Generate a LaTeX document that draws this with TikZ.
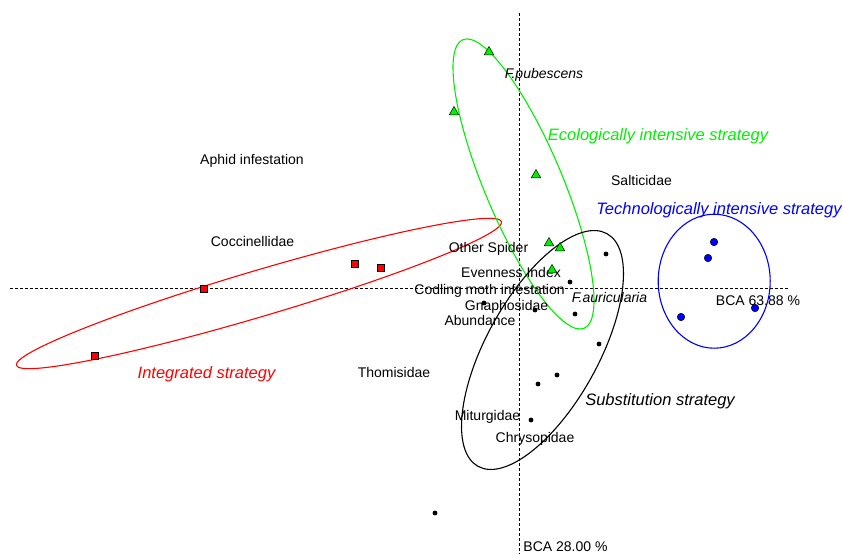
\documentclass[tikz,border=0pt]{standalone}
\usepackage{fontspec}
\setmainfont{Liberation Sans}
\usetikzlibrary{shapes.geometric}
\definecolor{rgreen}{RGB}{0,240,0}
\definecolor{rred}{RGB}{255,0,0}
\definecolor{rblue}{RGB}{0,0,255}
\begin{document}
\begin{tikzpicture}[x=1pt,y=-1pt,
  lab/.style={anchor=base, inner sep=0pt, font=\fontsize{14}{16}\selectfont},
  ital/.style={anchor=base, inner sep=0pt, font=\fontsize{14}{16}\selectfont\itshape},
  strat/.style={anchor=base, inner sep=0pt, font=\fontsize{16.5}{19}\selectfont\itshape},
  axisline/.style={line width=0.7pt, dash pattern=on 3pt off 2pt},
  sq/.style={rectangle, draw=black, fill=rred, minimum size=7pt, inner sep=0pt, line width=0.5pt},
  tri/.style={regular polygon, regular polygon sides=3, draw=black, fill=rgreen, minimum size=11pt, inner sep=0pt, line width=0.5pt},
  bdot/.style={circle, draw=black, fill=rblue, minimum size=7.5pt, inner sep=0pt, line width=0.5pt},
  kdot/.style={circle, fill=black, minimum size=4.8pt, inner sep=0pt},
  ell/.style={line width=1.1pt}]
\useasboundingbox (0,0) rectangle (843,554);
\fill[white] (0,0) rectangle (843,554);

% axes
\coordinate (hl) at (10,288);
\coordinate (hr) at (789,288);
\coordinate (vt) at (519.3,13);
\coordinate (vb) at (519.3,554);
\draw[axisline] (hl) -- (hr);
\draw[axisline] (vt) -- (vb);

% ellipses
\coordinate (cr) at (259,293.5);
\coordinate (cg) at (523.5,184);
\coordinate (ck) at (542.5,350);
\coordinate (cb) at (714.2,281.2);
\draw[ell, rred, rotate around={16.5:(cr)}] (cr) ellipse [x radius=253pt, y radius=23pt];
\draw[ell, rgreen, rotate around={-67.2:(cg)}] (cg) ellipse [x radius=156.5pt, y radius=39pt];
\draw[ell, black, rotate around={61:(ck)}] (ck) ellipse [x radius=133pt, y radius=56pt];
\draw[ell, rblue] (cb) ellipse [x radius=56pt, y radius=67pt];

% labels
\node[lab] (aphid) at (252,164) {Aphid infestation};
\node[lab] (cocc) at (252.5,246) {Coccinellidae};
\node[lab] (salt) at (641.5,185) {Salticidae};
\node[lab] (other) at (488.5,252) {Other Spider};
\node[lab] (even) at (511,277) {Evenness Index};
\node[lab] (codl) at (489.5,294) {Codling moth infestation};
\node[lab] (gnap) at (506.5,310) {Gnaphosidae};
\node[lab] (abun) at (480,325) {Abundance};
\node[ital] (faur) at (609.5,302) {F.auricularia};
\node[lab] (bcax) at (758,305) {BCA 63.88 \%};
\node[lab] (thom) at (394,377) {Thomisidae};
\node[strat, text=rred] (integ) at (206.5,378) {Integrated strategy};
\node[lab] (mitu) at (487.5,420) {Miturgidae};
\node[lab] (chry) at (535,442) {Chrysopidae};
\node[strat] (subst) at (660,405) {Substitution strategy};
\node[lab] (bcay) at (565.5,551) {BCA 28.00 \%};
\node[ital] (fpub) at (544,78) {F.pubescens};
\node[strat, text=rgreen] (ecol) at (658,140) {Ecologically intensive strategy};
\node[strat, text=rblue] (tech) at (719,214) {Technologically intensive strategy};

% black dots
\node[kdot] (k1) at (606,254) {};
\node[kdot] (k2) at (570,282) {};
\node[kdot] (k3) at (535,310) {};
\node[kdot] (k4) at (575,314) {};
\node[kdot] (k5) at (484,303) {};
\node[kdot] (k6) at (599,344) {};
\node[kdot] (k7) at (557,375) {};
\node[kdot] (k8) at (538,384) {};
\node[kdot] (k9) at (531,420) {};
\node[kdot] (k10) at (435,513) {};

% red squares
\node[sq] (r1) at (95,356) {};
\node[sq] (r2) at (204,289) {};
\node[sq] (r3) at (355,264) {};
\node[sq] (r4) at (381,268) {};

% green triangles
\node[tri] (g1) at (489,52) {};
\node[tri] (g2) at (454,112) {};
\node[tri] (g3) at (536,175) {};
\node[tri] (g4) at (549,243) {};
\node[tri] (g5) at (560,248) {};
\node[tri] (g6) at (552,270) {};

% blue circles
\node[bdot] (b1) at (714,242) {};
\node[bdot] (b2) at (708,258) {};
\node[bdot] (b3) at (681,317) {};
\node[bdot] (b4) at (755,308) {};
\end{tikzpicture}
\end{document}
